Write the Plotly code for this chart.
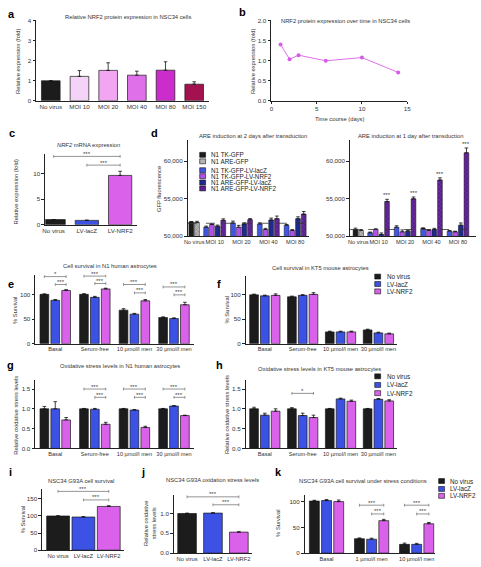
import plotly.graph_objects as go

W, H = 481, 567
FONT = "Liberation Sans, Arial, Helvetica, sans-serif"
TXT = "#333333"
INK = "#1a1a1a"

# ---------------- data ----------------
a_categories = ["No virus", "MOI 10", "MOI 20", "MOI 40", "MOI 80", "MOI 150"]
a_values = [1.0, 1.22, 1.52, 1.28, 1.53, 0.83]
a_errors = [0.0, 0.29, 0.38, 0.20, 0.42, 0.12]

b_days = [1, 2, 3, 6, 10, 14]
b_values = [1.41, 1.04, 1.14, 1.00, 1.08, 0.71]

c_categories = ["No virus", "LV-lacZ", "LV-NRF2"]
c_values = [1.0, 0.85, 9.6]
c_errors = [0.0, 0.05, 0.8]

d_groups = ["No virus", "MOI 10", "MOI 20", "MOI 40", "MOI 80"]
d_series = ["N1 TK-GFP", "N1 ARE-GFP", "N1 TK-GFP-LV-lacZ", "N1 TK-GFP-LV-NRF2",
            "N1 ARE-GFP-LV-lacZ", "N1 ARE-GFP-LV-NRF2"]
# 2 days after transduction (None = not measured in that group)
d2_values = [
    [51880, None, None, None, None],
    [51820, None, None, None, None],
    [None, 51180, 51750, 51620, 51450],
    [None, 51540, 51180, 50880, 50750],
    [None, 51320, 51620, 52150, 52320],
    [None, 52100, 52190, 52320, 52930],
]
d2_errors = [
    [60, None, None, None, None],
    [150, None, None, None, None],
    [None, 150, 250, 150, 100],
    [None, 100, 250, 150, 120],
    [None, 150, 150, 250, 250],
    [None, 200, 150, 350, 350],
]
d2_baseline = 51710
# 1 day after transduction
d1_values = [
    [50880, None, None, None, None],
    [50750, None, None, None, None],
    [None, 50440, 51180, 51010, 50660],
    [None, 50880, 50570, 50750, 50570],
    [None, 50220, 50660, 50880, 51450],
    [None, 54600, 54960, 57460, 61090],
]
d1_errors = [
    [180, None, None, None, None],
    [120, None, None, None, None],
    [None, 100, 200, 100, 80],
    [None, 100, 250, 100, 80],
    [None, 200, 120, 150, 300],
    [None, 300, 250, 300, 650],
]
d1_baseline = 50880
d1_significance = [None, "***", "***", "***", "***"]

treat_labels = ["No virus", "LV-lacZ", "LV-NRF2"]
stress_conditions = ["Basal", "Serum-free", "10 µmol/l men", "30 µmol/l men"]

e_values = [[100, 100, 68, 53], [88, 94, 60, 51], [108, 111, 87, 79]]
e_errors = [[1, 1.5, 3, 1.5], [1.5, 2, 1.5, 1.5], [1.5, 1.5, 2.5, 5]]
e_brackets = [(0, 0, 2, 136, "*"), (0, 1, 2, 120, "***"),
              (1, 0, 2, 137, "***"), (1, 1, 2, 122, "***"),
              (2, 0, 2, 120, "***"), (2, 1, 2, 103, "***"),
              (3, 0, 2, 115, "***"), (3, 1, 2, 99, "***")]

f_values = [[99, 95, 24, 28], [97, 98, 24, 22], [98, 100, 24, 20]]
f_errors = [[1.5, 1.5, 1.5, 1.5], [1.5, 1.5, 1.5, 1.5], [3, 3.5, 1.5, 1.5]]

g_values = [[1.0, 1.0, 1.0, 1.0], [1.0, 0.99, 0.97, 1.07], [0.72, 0.61, 0.53, 0.83]]
g_errors = [[0.06, 0.01, 0.01, 0.01], [0.18, 0.02, 0.01, 0.01], [0.06, 0.05, 0.03, 0.01]]
g_brackets = [(1, 0, 2, 1.5, "***"), (1, 1, 2, 1.29, "***"),
              (2, 0, 2, 1.5, "***"), (2, 1, 2, 1.29, "***"),
              (3, 0, 2, 1.5, "***"), (3, 1, 2, 1.29, "***")]

h_values = [[1.0, 1.0, 1.0, 1.0], [0.84, 0.83, 1.25, 1.24], [0.94, 0.78, 1.19, 1.20]]
h_errors = [[0.04, 0.03, 0.01, 0.01], [0.05, 0.06, 0.02, 0.02], [0.06, 0.06, 0.03, 0.03]]
h_brackets = [(1, 0, 2, 1.39, "*")]

c_brackets = [(0, 2, 13.3, "***"), (1, 2, 11.6, "***")]

i_values = [100, 97, 128]
i_errors = [0.5, 1, 2]
i_brackets = [(0, 2, 172, "***"), (1, 2, 147, "***")]

j_values = [1.0, 1.01, 0.53]
j_errors = [0.01, 0.01, 0.01]
j_brackets = [(0, 2, 1.42, "***"), (1, 2, 1.22, "***")]

k_conditions = ["Basal", "1 µmol/l men", "10 µmol/l men"]
k_values = [[101, 28, 17], [102, 27, 17], [100, 63, 57]]
k_errors = [[1.5, 1.5, 2.5], [2, 2, 2], [3, 2.5, 2.5]]
k_brackets = [(1, 0, 2, 93, "***"), (1, 1, 2, 76, "***"),
              (2, 0, 2, 93, "***"), (2, 1, 2, 76, "***")]

# ---------------- styles ----------------
C_NV = "#1c1c1c"
C_LACZ = "#3b52e4"
C_NRF2 = "#da62ea"
TREAT_COLORS = [C_NV, C_LACZ, C_NRF2]
A_COLORS = ["#1c1c1c", "#f5d2f7", "#f2a6f2", "#e070ea", "#cc2ccc", "#a3124e"]
D_COLORS = ["#1c1c1c", "#b4b4b4", "#4257e0", "#b052e6", "#1f2a8c", "#5a1f8c"]
D_PATTERN = [None, "x", None, None, None, "x"]
D_PATFG = [None, "#555555", None, None, None, "#8a4cc0"]

fig = go.Figure()

GEOM = {
    "a": dict(n=1, x=(33, 208), y=(17, 98), xr=(-0.5, 5.5), yr=(0, 4)),
    "b": dict(n=2, x=(272, 410), y=(17, 98), xr=(0, 15), yr=(0, 2)),
    "c": dict(n=3, x=(42, 135), y=(151.7, 223.5), xr=(-0.25, 2.5), yr=(0, 13.8)),
    "dL": dict(n=4, x=(187, 310), y=(138, 235), xr=(-0.6, 20.6), yr=(50000, 62760)),
    "dR": dict(n=5, x=(352, 480), y=(138, 235), xr=(-0.95, 21.4), yr=(50000, 62760)),
    "e": dict(n=6, x=(32, 193), y=(274, 344), xr=(-0.5, 3.5), yr=(0, 140)),
    "f": dict(n=7, x=(246, 400), y=(275, 344), xr=(-0.5, 3.5), yr=(0, 138)),
    "g": dict(n=8, x=(32, 193), y=(381, 450), xr=(-0.5, 3.5), yr=(0, 1.72)),
    "h": dict(n=9, x=(246, 400), y=(381, 450), xr=(-0.5, 3.5), yr=(0, 1.72)),
    "i": dict(n=10, x=(39, 122), y=(491.4, 553), xr=(-0.62, 2.6), yr=(0, 178)),
    "j": dict(n=11, x=(173, 252), y=(497, 556), xr=(-0.5, 2.5), yr=(0, 1.47)),
    "k": dict(n=12, x=(306, 438), y=(497, 556), xr=(-0.48, 2.4), yr=(0, 113)),
}


def ids(n):
    return ("x" if n == 1 else f"x{n}"), ("y" if n == 1 else f"y{n}")


def px(x, y):
    return x / W, 1 - y / H


AX = dict(showline=True, linecolor="#222222", linewidth=0.9, ticks="outside", ticklen=3,
          tickwidth=0.9, tickcolor="#222222", showgrid=False, zeroline=False, fixedrange=True,
          tickangle=0, tickfont=dict(size=6.2, color=TXT, family=FONT))


def setup_axes(key, xtickvals, xticktext, ytickvals, yticktext, xticks="", xfont=5.8):
    gm = GEOM[key]
    n = gm["n"]
    xid, yid = ids(n)
    xname = "xaxis" if n == 1 else f"xaxis{n}"
    yname = "yaxis" if n == 1 else f"yaxis{n}"
    fig.update_layout(**{
        xname: dict(AX, domain=[gm["x"][0] / W, gm["x"][1] / W], range=list(gm["xr"]), anchor=yid,
                    tickmode="array", tickvals=xtickvals, ticktext=xticktext, ticks=xticks,
                    ticklen=2, tickfont=dict(size=xfont, color=TXT, family=FONT)),
        yname: dict(AX, domain=[1 - gm["y"][1] / H, 1 - gm["y"][0] / H], range=list(gm["yr"]),
                    anchor=xid, tickmode="array", tickvals=ytickvals, ticktext=yticktext),
    })
    return xid, yid


def cap_size(key):
    gm = GEOM[key]
    return (gm["yr"][1] - gm["yr"][0]) * 1.4 / (gm["y"][1] - gm["y"][0])


def err(arr):
    return dict(type="data", array=arr, arrayminus=[0] * len(arr), symmetric=False,
                color="#111111", thickness=0.8, width=1.8)


def bracket(key, x0, x1, y, label):
    xid, yid = ids(GEOM[key]["n"])
    c = cap_size(key)
    fig.add_trace(go.Scatter(x=[x0, x0, None, x0, x1, None, x1, x1],
                             y=[y - c, y + c, None, y, y, None, y - c, y + c],
                             mode="lines", line=dict(color="#7a7a7a", width=0.8),
                             xaxis=xid, yaxis=yid, showlegend=False, hoverinfo="skip"))
    fig.add_annotation(x=(x0 + x1) / 2, y=y, xref=xid, yref=yid, text=label, showarrow=False,
                       yanchor="bottom", yshift=-2.5, font=dict(size=6, color="#444444", family=FONT))


def text(x, y, s, size=5.8, angle=0, color=TXT, bold=False, anchor="center"):
    fx, fy = px(x, y)
    if bold:
        s = f"<b>{s}</b>"
    fig.add_annotation(x=fx, y=fy, xref="paper", yref="paper", text=s, showarrow=False,
                       textangle=angle, xanchor=anchor, yanchor="middle",
                       font=dict(size=size, color=color, family=FONT))


def legend(items, sw_x, txt_x, ys):
    for (label, color), y in zip(items, ys):
        x0, y0 = px(sw_x, y - 2.5)
        x1, y1 = px(sw_x + 6, y + 2.5)
        fig.add_shape(type="rect", xref="paper", yref="paper", x0=x0, x1=x1, y0=y1, y1=y0,
                      fillcolor=color, line=dict(color="#111111", width=0.6))
        text(txt_x, y, label, size=6.3, color="#222222", anchor="left")


# ---------- a ----------
xid, yid = setup_axes("a", list(range(6)), a_categories, [0, 1, 2, 3, 4], ["0", "1", "2", "3", "4"], xfont=6.2)
fig.add_trace(go.Bar(x=list(range(len(a_values))), y=a_values, width=0.65,
                     marker=dict(color=A_COLORS, line=dict(color=INK, width=0.7)),
                     error_y=err(a_errors), xaxis=xid, yaxis=yid, showlegend=False))

# ---------- b ----------
xid, yid = setup_axes("b", [0, 5, 10, 15], ["0", "5", "10", "15"],
                      [0, 0.5, 1, 1.5, 2], ["0.0", "0.5", "1.0", "1.5", "2.0"], xticks="outside", xfont=6.2)
fig.add_trace(go.Scatter(x=b_days, y=b_values, mode="lines+markers",
                         line=dict(color="#e070ea", width=1), marker=dict(size=4, color="#d85ae8"),
                         xaxis=xid, yaxis=yid, showlegend=False))

# ---------- c ----------
xid, yid = setup_axes("c", [0, 1, 2], c_categories, [0, 5, 10], ["0", "5", "10"], xfont=6.2)
fig.add_trace(go.Bar(x=[0, 1, 2], y=c_values, width=0.7,
                     marker=dict(color=TREAT_COLORS, line=dict(color=INK, width=0.7)),
                     error_y=err(c_errors), xaxis=xid, yaxis=yid, showlegend=False))
for s0, s1, y, lab in c_brackets:
    bracket("c", s0, s1, y, lab)


# ---------- d ----------
def d_positions():
    pos = {}
    pos[0] = [0, 1]
    for g in range(1, 5):
        start = 2.6 + 4.7 * (g - 1)
        pos[g] = [start + i for i in range(4)]
    return pos


D_POS = d_positions()
D_GROUP_CENTERS = [sum(D_POS[g]) / len(D_POS[g]) for g in range(5)]


def d_panel(key, values, errors, baseline, signif=None):
    xid, yid = setup_axes(key, D_GROUP_CENTERS, d_groups, [50000, 55000, 60000],
                          [f"{v:,}" for v in [50000, 55000, 60000]], xfont=5.6)
    for s, (vals, errs) in enumerate(zip(values, errors)):
        xs, ys, es, gs = [], [], [], []
        for g, v in enumerate(vals):
            if v is None:
                continue
            slot = s if g == 0 else s - 2
            xs.append(D_POS[g][slot])
            ys.append(v)
            es.append(errs[g])
            gs.append(g)
        mk = dict(color=D_COLORS[s], line=dict(color=INK, width=0.5))
        if D_PATTERN[s]:
            mk["pattern"] = dict(shape=D_PATTERN[s], size=3, solidity=0.35, fgcolor=D_PATFG[s])
        fig.add_trace(go.Bar(x=xs, y=ys, width=0.85, marker=mk, error_y=err(es),
                             xaxis=xid, yaxis=yid, showlegend=False))
        if signif and s == 5:
            for x, v, e, g in zip(xs, ys, es, gs):
                if signif[g]:
                    fig.add_annotation(x=x, y=v + e, xref=xid, yref=yid, text=signif[g],
                                       showarrow=False, yanchor="bottom", yshift=-1,
                                       font=dict(size=6, color="#333333", family=FONT))
    fig.add_shape(type="line", xref=f"{xid} domain", yref=yid, x0=0, x1=1, y0=baseline, y1=baseline,
                  line=dict(color="#333333", width=0.8, dash="dash"))


d_panel("dL", d2_values, d2_errors, d2_baseline)
d_panel("dR", d1_values, d1_errors, d1_baseline, d1_significance)


# ---------- grouped treatment panels ----------
def treat_panel(key, cats, values, errors, yticks, yfmt, brackets, offset, width):
    xid, yid = setup_axes(key, list(range(len(cats))), cats, yticks, [yfmt(v) for v in yticks], xfont=5.6)
    for s, (vals, errs) in enumerate(zip(values, errors)):
        xs = [g + (s - 1) * offset for g in range(len(vals))]
        fig.add_trace(go.Bar(x=xs, y=vals, width=width,
                             marker=dict(color=TREAT_COLORS[s], line=dict(color=INK, width=0.7)),
                             error_y=err(errs), xaxis=xid, yaxis=yid, showlegend=False))
    for g, s0, s1, y, lab in brackets:
        bracket(key, g + (s0 - 1) * offset, g + (s1 - 1) * offset, y, lab)


treat_panel("e", stress_conditions, e_values, e_errors, [0, 50, 100], lambda v: f"{v}", e_brackets, 0.275, 0.22)
treat_panel("f", stress_conditions, f_values, f_errors, [0, 50, 100], lambda v: f"{v}", [], 0.285, 0.23)
treat_panel("g", stress_conditions, g_values, g_errors, [0, 0.5, 1.0, 1.5], lambda v: f"{v:.1f}", g_brackets, 0.275, 0.22)
treat_panel("h", stress_conditions, h_values, h_errors, [0, 0.5, 1.0, 1.5], lambda v: f"{v:.1f}", h_brackets, 0.285, 0.23)
treat_panel("k", k_conditions, k_values, k_errors, [0, 50, 100], lambda v: f"{v}", k_brackets, 0.27, 0.22)

# ---------- i ----------
xid, yid = setup_axes("i", [0, 1, 2], treat_labels, [0, 50, 100, 150], ["0", "50", "100", "150"])
fig.add_trace(go.Bar(x=[0, 1, 2], y=i_values, width=0.9,
                     marker=dict(color=TREAT_COLORS, line=dict(color=INK, width=0.7)),
                     error_y=err(i_errors), xaxis=xid, yaxis=yid, showlegend=False))
for s0, s1, y, lab in i_brackets:
    bracket("i", s0, s1, y, lab)

# ---------- j ----------
xid, yid = setup_axes("j", [0, 1, 2], treat_labels, [0, 0.5, 1.0], ["0.0", "0.5", "1.0"])
fig.add_trace(go.Bar(x=[0, 1, 2], y=j_values, width=0.72,
                     marker=dict(color=TREAT_COLORS, line=dict(color=INK, width=0.7)),
                     error_y=err(j_errors), xaxis=xid, yaxis=yid, showlegend=False))
for s0, s1, y, lab in j_brackets:
    bracket("j", s0, s1, y, lab)

# ---------- text: titles, axis titles, letters ----------
text(126, 13, "Relative NRF2 protein expression in NSC34 cells")
text(347, 17, "NRF2 protein expression over time in NSC34 cells")
text(86, 143, "<i>NRF2</i> mRNA expression")
text(253, 134, "ARE induction at 2 days after transduction")
text(413, 134, "ARE induction at 1 day after transduction")
text(108, 265, "Cell survival in N1 human astrocytes")
text(322, 267, "Cell survival in KT5 mouse astrocytes")
text(118, 367, "Oxidative stress levels in N1 human astrocytes")
text(321, 370, "Oxidative stress levels in KT5 mouse astrocytes")
text(78, 483, "NSC34 G93A cell survival")
text(212, 482, "NSC34 G93A oxidation stress levels")
text(365, 483, "NSC34 G93A cell survival under stress conditions")

text(15, 58, "Relative expression (fold)", angle=-90)
text(253, 58, "Relative expression (fold)", angle=-90)
text(341, 116, "Time course (days)")
text(12, 190, "Relative expression (fold)", angle=-90)
text(157, 187, "GFP fluorescence", angle=-90)
text(11, 310, "% Survival", angle=-90)
text(227, 310, "% Survival", angle=-90)
text(12, 416, "Relative oxidative stress levels", angle=-90)
text(227, 416, "Relative oxidative stress levels", angle=-90)
text(19, 522, "% Survival", angle=-90)
text(148, 526, "Relative oxidative<br>stress levels", angle=-90)
text(278, 526, "% Survival", angle=-90)

for letter, (lx, ly) in {"a": (8, 10), "b": (243, 8), "c": (8, 131), "d": (153, 131),
                         "e": (7, 283), "f": (219, 283), "g": (7, 366), "h": (219, 366),
                         "i": (7, 474), "j": (141, 474), "k": (279, 474)}.items():
    text(lx, ly, letter, size=11, color="#000000", bold=True)

# ---------- legends ----------
legend(list(zip(d_series, D_COLORS)), 199, 208, [152.7, 159.3, 168.3, 174.3, 180.7, 186.7])
legend(list(zip(treat_labels, TREAT_COLORS)), 377, 387, [276, 283.5, 291])
legend(list(zip(treat_labels, TREAT_COLORS)), 377, 387, [377, 385.7, 394])
legend(list(zip(treat_labels, TREAT_COLORS)), 442, 452, [483, 491, 498])

fig.update_layout(width=W, height=H, margin=dict(l=0, r=0, t=0, b=0), barmode="overlay",
                  plot_bgcolor="white", paper_bgcolor="white", showlegend=False,
                  font=dict(family=FONT, size=6, color=TXT))

fig.write_html("out.html", config={"displayModeBar": False},
               post_script="document.body.style.margin='0px';document.body.style.overflow='hidden';")
